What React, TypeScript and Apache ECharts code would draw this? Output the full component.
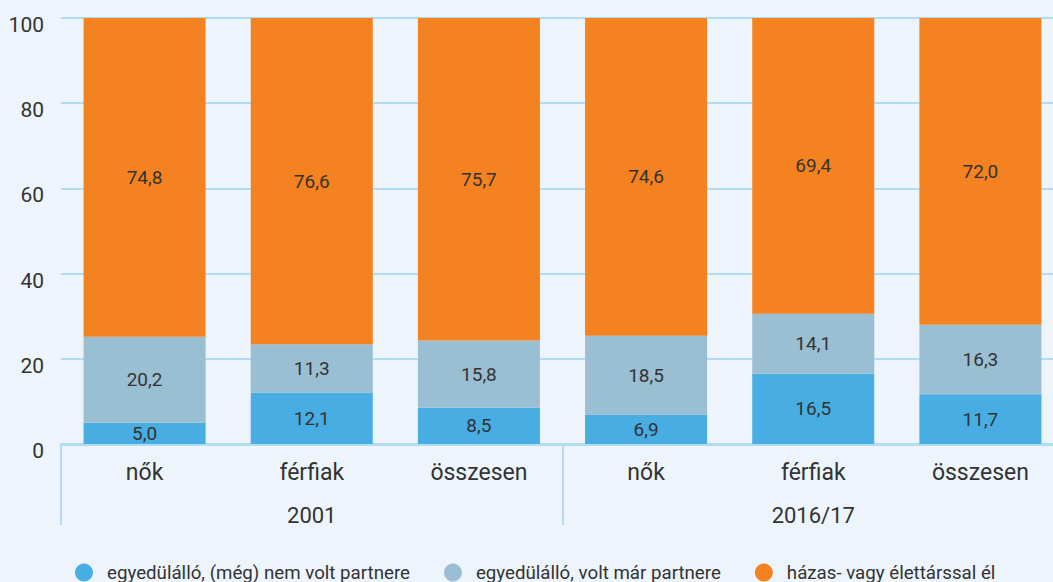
import React, { useEffect, useRef } from "react";
import * as echarts from "echarts";

const categories = ["nők", "férfiak", "összesen", "nők", "férfiak", "összesen"];
const groups = ["2001", "2016/17"];
const seriesNames = [
  "egyedülálló, (még) nem volt partnere",
  "egyedülálló, volt már partnere",
  "házas- vagy élettárssal él",
];
const neverPartner = [5.0, 12.1, 8.5, 6.9, 16.5, 11.7];
const hadPartner = [20.2, 11.3, 15.8, 18.5, 14.1, 16.3];
const married = [74.8, 76.6, 75.7, 74.6, 69.4, 72.0];
const colors = ["#48ade3", "#9abed2", "#f58220"];

const FONT = "Roboto";
const TEXT = "#333333";
const LINE = "#b0ddf5";

export default function App() {
  const ref = useRef<HTMLDivElement>(null);
  useEffect(() => {
    const chart = echarts.init(ref.current!, null, { renderer: "svg" });
    const values = [neverPartner, hadPartner, married];
    chart.setOption({
      animation: false,
      backgroundColor: "#edf4fb",
      textStyle: { fontFamily: FONT },
      grid: { left: 61, width: 1003, top: 18, height: 426, outerBoundsMode: "none" },
      legend: {
        left: 70,
        top: 558,
        icon: "circle",
        itemWidth: 18,
        itemHeight: 18,
        itemGap: 34,
        textStyle: { fontFamily: FONT, fontSize: 18.7, color: TEXT, padding: [0, 0, 0, 9] },
        data: seriesNames,
      },
      xAxis: [
        {
          type: "category",
          position: "bottom",
          data: categories,
          axisLine: { show: true, lineStyle: { color: LINE, width: 3 } },
          axisTick: { show: false },
          axisLabel: { fontFamily: FONT, fontSize: 23, color: TEXT, margin: 17 },
        },
        {
          type: "category",
          position: "bottom",
          data: groups,
          axisLine: { show: false },
          axisTick: { show: true, length: 81, lineStyle: { color: LINE, width: 2 } },
          axisLabel: { fontFamily: FONT, fontSize: 22, color: TEXT, margin: 60 },
          splitLine: { show: false },
        },
      ],
      yAxis: {
        type: "value",
        min: 0,
        max: 100,
        interval: 20,
        axisLine: { show: false },
        axisTick: { show: false },
        axisLabel: {
          fontFamily: FONT,
          fontSize: 21,
          color: TEXT,
          margin: 17,
          verticalAlign: "top",
          lineHeight: 14,
        },
        splitLine: { lineStyle: { color: LINE, width: 2 } },
      },
      series: seriesNames.map((name, i) => ({
        name,
        type: "bar",
        stack: "total",
        xAxisIndex: 0,
        barCategoryGap: "27%",
        data: values[i],
        itemStyle: { color: colors[i] },
        label: {
          show: true,
          position: "inside",
          fontFamily: FONT,
          fontSize: 19,
          color: TEXT,
          formatter: (p: any) => Number(p.value).toFixed(1).replace(".", ","),
        },
      })),
    });
    return () => chart.dispose();
  }, []);
  return (
    <div
      ref={ref}
      style={{ position: "fixed", left: 0, top: 0, width: 1053, height: 582 }}
    />
  );
}
